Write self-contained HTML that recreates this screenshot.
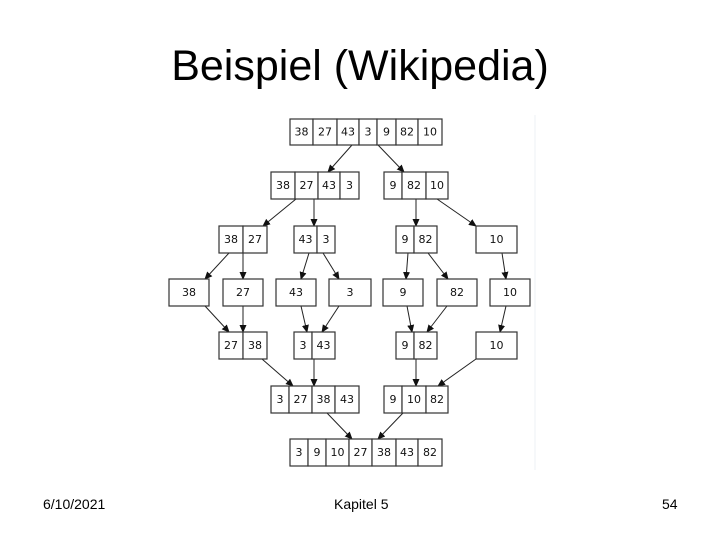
<!DOCTYPE html>
<html><head><meta charset="utf-8"><style>
html,body{margin:0;padding:0;background:#fff;}
body{width:720px;height:540px;position:relative;overflow:hidden;font-family:"Liberation Sans",Arial,sans-serif;}
.t{position:absolute;left:0;width:720px;text-align:center;top:40px;font-size:43px;line-height:52px;color:#000;}
.f{position:absolute;top:495px;font-size:14px;line-height:18px;color:#000;}
svg{position:absolute;left:0;top:0;}
svg text{font-family:"DejaVu Sans",sans-serif;font-size:11px;text-anchor:middle;dominant-baseline:central;fill:#111;}
svg rect{fill:#fff;stroke:#333;stroke-width:1.2;}
svg line{stroke:#222;stroke-width:1;}
</style></head><body>
<div class="t">Beispiel (Wikipedia)</div>
<div class="f" style="left:43px">6/10/2021</div>
<div class="f" style="left:334px">Kapitel 5</div>
<div class="f" style="left:662px">54</div>
<svg width="720" height="540" viewBox="0 0 720 540">
<defs><marker id="a" markerWidth="8" markerHeight="8" refX="7" refY="4" orient="auto" markerUnits="userSpaceOnUse"><path d="M0,0.5 L8,4 L0,7.5 z" fill="#111"/></marker></defs>
<line x1="535" y1="115" x2="535" y2="470" style="stroke:#eef2f4"/>
<g id="boxes"></g>
<g style="marker-end:url(#a)">
<line x1="352" y1="145" x2="328" y2="172" marker-end="url(#a)"/>
<line x1="378" y1="145" x2="404" y2="172" marker-end="url(#a)"/>
<line x1="296" y1="199" x2="263" y2="226" marker-end="url(#a)"/>
<line x1="314" y1="199" x2="314" y2="226" marker-end="url(#a)"/>
<line x1="416" y1="199" x2="416" y2="226" marker-end="url(#a)"/>
<line x1="437" y1="199" x2="476" y2="226" marker-end="url(#a)"/>
<line x1="229" y1="253" x2="205" y2="279" marker-end="url(#a)"/>
<line x1="243" y1="253" x2="243" y2="279" marker-end="url(#a)"/>
<line x1="309" y1="253" x2="301" y2="279" marker-end="url(#a)"/>
<line x1="323" y1="253" x2="339" y2="279" marker-end="url(#a)"/>
<line x1="408" y1="253" x2="406" y2="279" marker-end="url(#a)"/>
<line x1="428" y1="253" x2="448" y2="279" marker-end="url(#a)"/>
<line x1="502" y1="253" x2="506" y2="279" marker-end="url(#a)"/>
<line x1="205" y1="306" x2="229" y2="332" marker-end="url(#a)"/>
<line x1="243" y1="306" x2="243" y2="332" marker-end="url(#a)"/>
<line x1="301" y1="306" x2="307" y2="332" marker-end="url(#a)"/>
<line x1="339" y1="306" x2="322" y2="332" marker-end="url(#a)"/>
<line x1="407" y1="306" x2="412" y2="332" marker-end="url(#a)"/>
<line x1="447" y1="306" x2="427" y2="332" marker-end="url(#a)"/>
<line x1="506" y1="306" x2="500" y2="332" marker-end="url(#a)"/>
<line x1="262" y1="359" x2="293" y2="386" marker-end="url(#a)"/>
<line x1="314" y1="359" x2="314" y2="386" marker-end="url(#a)"/>
<line x1="416" y1="359" x2="416" y2="386" marker-end="url(#a)"/>
<line x1="476" y1="359" x2="438" y2="386" marker-end="url(#a)"/>
<line x1="327" y1="413" x2="352" y2="439" marker-end="url(#a)"/>
<line x1="403" y1="413" x2="378" y2="439" marker-end="url(#a)"/>
</g>
<!-- row1 -->
<g>
<rect x="290" y="119" width="23" height="26"/><text x="301.5" y="132">38</text>
<rect x="313" y="119" width="24" height="26"/><text x="325" y="132">27</text>
<rect x="337" y="119" width="22" height="26"/><text x="348" y="132">43</text>
<rect x="359" y="119" width="18" height="26"/><text x="368" y="132">3</text>
<rect x="377" y="119" width="19" height="26"/><text x="386.5" y="132">9</text>
<rect x="396" y="119" width="22" height="26"/><text x="407" y="132">82</text>
<rect x="418" y="119" width="24" height="26"/><text x="430" y="132">10</text>
</g>
<!-- row2 -->
<g>
<rect x="271" y="172" width="24" height="27"/><text x="283" y="185.5">38</text>
<rect x="295" y="172" width="23" height="27"/><text x="306.5" y="185.5">27</text>
<rect x="318" y="172" width="22" height="27"/><text x="329" y="185.5">43</text>
<rect x="340" y="172" width="19" height="27"/><text x="349.5" y="185.5">3</text>
<rect x="384" y="172" width="18" height="27"/><text x="393" y="185.5">9</text>
<rect x="402" y="172" width="24" height="27"/><text x="414" y="185.5">82</text>
<rect x="426" y="172" width="22" height="27"/><text x="437" y="185.5">10</text>
</g>
<!-- row3 -->
<g>
<rect x="219" y="226" width="24" height="27"/><text x="231" y="239.5">38</text>
<rect x="243" y="226" width="24" height="27"/><text x="255" y="239.5">27</text>
<rect x="294" y="226" width="23" height="27"/><text x="305.5" y="239.5">43</text>
<rect x="317" y="226" width="18" height="27"/><text x="326" y="239.5">3</text>
<rect x="396" y="226" width="18" height="27"/><text x="405" y="239.5">9</text>
<rect x="414" y="226" width="23" height="27"/><text x="425.5" y="239.5">82</text>
<rect x="476" y="226" width="41" height="27"/><text x="496.5" y="239.5">10</text>
</g>
<!-- row4 -->
<g>
<rect x="169" y="279" width="40" height="27"/><text x="189" y="292.5">38</text>
<rect x="223" y="279" width="40" height="27"/><text x="243" y="292.5">27</text>
<rect x="276" y="279" width="40" height="27"/><text x="296" y="292.5">43</text>
<rect x="329" y="279" width="42" height="27"/><text x="350" y="292.5">3</text>
<rect x="383" y="279" width="40" height="27"/><text x="403" y="292.5">9</text>
<rect x="437" y="279" width="40" height="27"/><text x="457" y="292.5">82</text>
<rect x="490" y="279" width="40" height="27"/><text x="510" y="292.5">10</text>
</g>
<!-- row5 -->
<g>
<rect x="219" y="332" width="24" height="27"/><text x="231" y="345.5">27</text>
<rect x="243" y="332" width="24" height="27"/><text x="255" y="345.5">38</text>
<rect x="294" y="332" width="18" height="27"/><text x="303" y="345.5">3</text>
<rect x="312" y="332" width="23" height="27"/><text x="323.5" y="345.5">43</text>
<rect x="396" y="332" width="18" height="27"/><text x="405" y="345.5">9</text>
<rect x="414" y="332" width="23" height="27"/><text x="425.5" y="345.5">82</text>
<rect x="476" y="332" width="41" height="27"/><text x="496.5" y="345.5">10</text>
</g>
<!-- row6 -->
<g>
<rect x="271" y="386" width="18" height="27"/><text x="280" y="399.5">3</text>
<rect x="289" y="386" width="23" height="27"/><text x="300.5" y="399.5">27</text>
<rect x="312" y="386" width="23" height="27"/><text x="323.5" y="399.5">38</text>
<rect x="335" y="386" width="24" height="27"/><text x="347" y="399.5">43</text>
<rect x="384" y="386" width="18" height="27"/><text x="393" y="399.5">9</text>
<rect x="402" y="386" width="24" height="27"/><text x="414" y="399.5">10</text>
<rect x="426" y="386" width="22" height="27"/><text x="437" y="399.5">82</text>
</g>
<!-- row7 -->
<g>
<rect x="290" y="439" width="18" height="27"/><text x="299" y="452.5">3</text>
<rect x="308" y="439" width="18" height="27"/><text x="317" y="452.5">9</text>
<rect x="326" y="439" width="23" height="27"/><text x="337.5" y="452.5">10</text>
<rect x="349" y="439" width="23" height="27"/><text x="360.5" y="452.5">27</text>
<rect x="372" y="439" width="24" height="27"/><text x="384" y="452.5">38</text>
<rect x="396" y="439" width="22" height="27"/><text x="407" y="452.5">43</text>
<rect x="418" y="439" width="24" height="27"/><text x="430" y="452.5">82</text>
</g>
</svg>
</body></html>
